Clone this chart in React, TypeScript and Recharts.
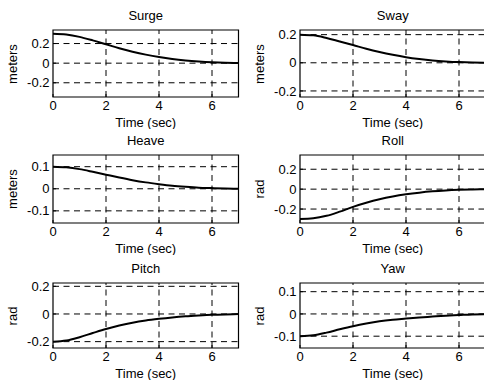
import React from "react";
import { LineChart, Line, XAxis, YAxis, ReferenceLine, ReferenceArea } from "recharts";

const time = [0, 0.5, 1, 1.5, 2, 2.5, 3, 3.5, 4, 4.5, 5, 5.5, 6, 6.5, 7];
const surge = [0.3, 0.292, 0.268, 0.232, 0.192, 0.152, 0.117, 0.087, 0.062, 0.042, 0.027, 0.016, 0.008, 0.003, 0.001];
const sway = [0.2, 0.195, 0.176, 0.151, 0.126, 0.1, 0.077, 0.057, 0.04, 0.027, 0.017, 0.01, 0.005, 0.002, 0.001];
const heave = [0.1, 0.097, 0.089, 0.077, 0.064, 0.051, 0.039, 0.029, 0.021, 0.014, 0.009, 0.005, 0.003, 0.001, 0];
const roll = [-0.3, -0.293, -0.268, -0.226, -0.178, -0.137, -0.102, -0.074, -0.052, -0.035, -0.022, -0.013, -0.007, -0.003, -0.001];
const pitch = [-0.2, -0.192, -0.168, -0.138, -0.109, -0.084, -0.063, -0.047, -0.035, -0.025, -0.017, -0.011, -0.006, -0.003, -0.001];
const yaw = [-0.1, -0.096, -0.084, -0.069, -0.055, -0.043, -0.033, -0.026, -0.021, -0.016, -0.012, -0.008, -0.005, -0.002, -0.001];

const xTicks = [0, 2, 4, 6];
const ticksWide = [-0.2, 0, 0.2];
const ticksNarrow = [-0.1, 0, 0.1];

const FONT = "Arial, 'Liberation Sans', sans-serif";
const YW = 50;
const XH = 32;
const PLOT_W = 185.5;
const MT = 8;

const panels = [
  { title: "Surge", unit: "meters", values: surge, domain: [-0.345, 0.338], ticks: ticksWide, left: 53, top: 30, h: 67 },
  { title: "Sway", unit: "meters", values: sway, domain: [-0.243, 0.233], ticks: ticksWide, left: 300, top: 30, h: 67 },
  { title: "Heave", unit: "meters", values: heave, domain: [-0.155, 0.153], ticks: ticksNarrow, left: 53, top: 155, h: 68 },
  { title: "Roll", unit: "rad", values: roll, domain: [-0.34, 0.343], ticks: ticksWide, left: 300, top: 155, h: 68 },
  { title: "Pitch", unit: "rad", values: pitch, domain: [-0.246, 0.224], ticks: ticksWide, left: 53, top: 283, h: 65 },
  { title: "Yaw", unit: "rad", values: yaw, domain: [-0.153, 0.139], ticks: ticksNarrow, left: 300, top: 283, h: 65 },
];

function Panel({ p }: { p: (typeof panels)[number] }) {
  const data = time.map((t, i) => ({ t, v: p.values[i] }));
  const tickStyle = { fill: "#000", fontSize: 13, fontFamily: FONT };
  return (
    <>
      <div
        style={{
          position: "absolute",
          left: p.left,
          top: p.top - 21,
          width: PLOT_W,
          textAlign: "center",
          font: `13px ${FONT}`,
          lineHeight: "13px",
        }}
      >
        {p.title}
      </div>
      <div
        style={{
          position: "absolute",
          left: p.left - 40 - 30,
          top: p.top + p.h / 2 - 7,
          width: 60,
          textAlign: "center",
          font: `13px ${FONT}`,
          lineHeight: "14px",
          transform: "rotate(-90deg)",
        }}
      >
        {p.unit}
      </div>
      <div style={{ position: "absolute", left: p.left - YW, top: p.top - MT }}>
        <LineChart
          width={YW + PLOT_W + 4}
          height={MT + p.h + XH}
          data={data}
          margin={{ top: MT, right: 4, bottom: 0, left: 0 }}
        >
          <XAxis
            dataKey="t"
            type="number"
            domain={[0, 7]}
            ticks={xTicks}
            interval={0}
            allowDataOverflow
            axisLine={false}
            tickSize={-3}
            tickMargin={7}
            tickLine={{ stroke: "#000" }}
            tick={tickStyle}
            height={XH}
            label={{ value: "Time (sec)", position: "insideBottom", offset: 2, fill: "#000", fontSize: 13, fontFamily: FONT }}
          />
          <YAxis
            type="number"
            domain={p.domain}
            ticks={p.ticks}
            interval={0}
            allowDataOverflow
            axisLine={false}
            tickSize={-3}
            tickMargin={6.5}
            tickLine={{ stroke: "#000" }}
            tick={tickStyle}
            width={YW}
          />
          {xTicks.slice(1).map((x) => (
            <ReferenceLine key={`x${x}`} x={x} stroke="#000" strokeDasharray="6 4.5" />
          ))}
          {p.ticks.map((y) => (
            <ReferenceLine key={`y${y}`} y={y} stroke="#000" strokeDasharray="6 4.5" />
          ))}
          <ReferenceArea x1={0} x2={7} y1={p.domain[0]} y2={p.domain[1]} fill="none" stroke="#000" strokeWidth={1.2} />
          <Line type="monotone" dataKey="v" stroke="#000" strokeWidth={2} dot={false} isAnimationActive={false} />
        </LineChart>
      </div>
    </>
  );
}

export default function App() {
  return (
    <div
      style={{
        position: "absolute",
        left: 0,
        top: 0,
        width: 484,
        height: 385,
        overflow: "hidden",
        background: "#fff",
      }}
    >
      {panels.map((p) => (
        <Panel key={p.title} p={p} />
      ))}
    </div>
  );
}
